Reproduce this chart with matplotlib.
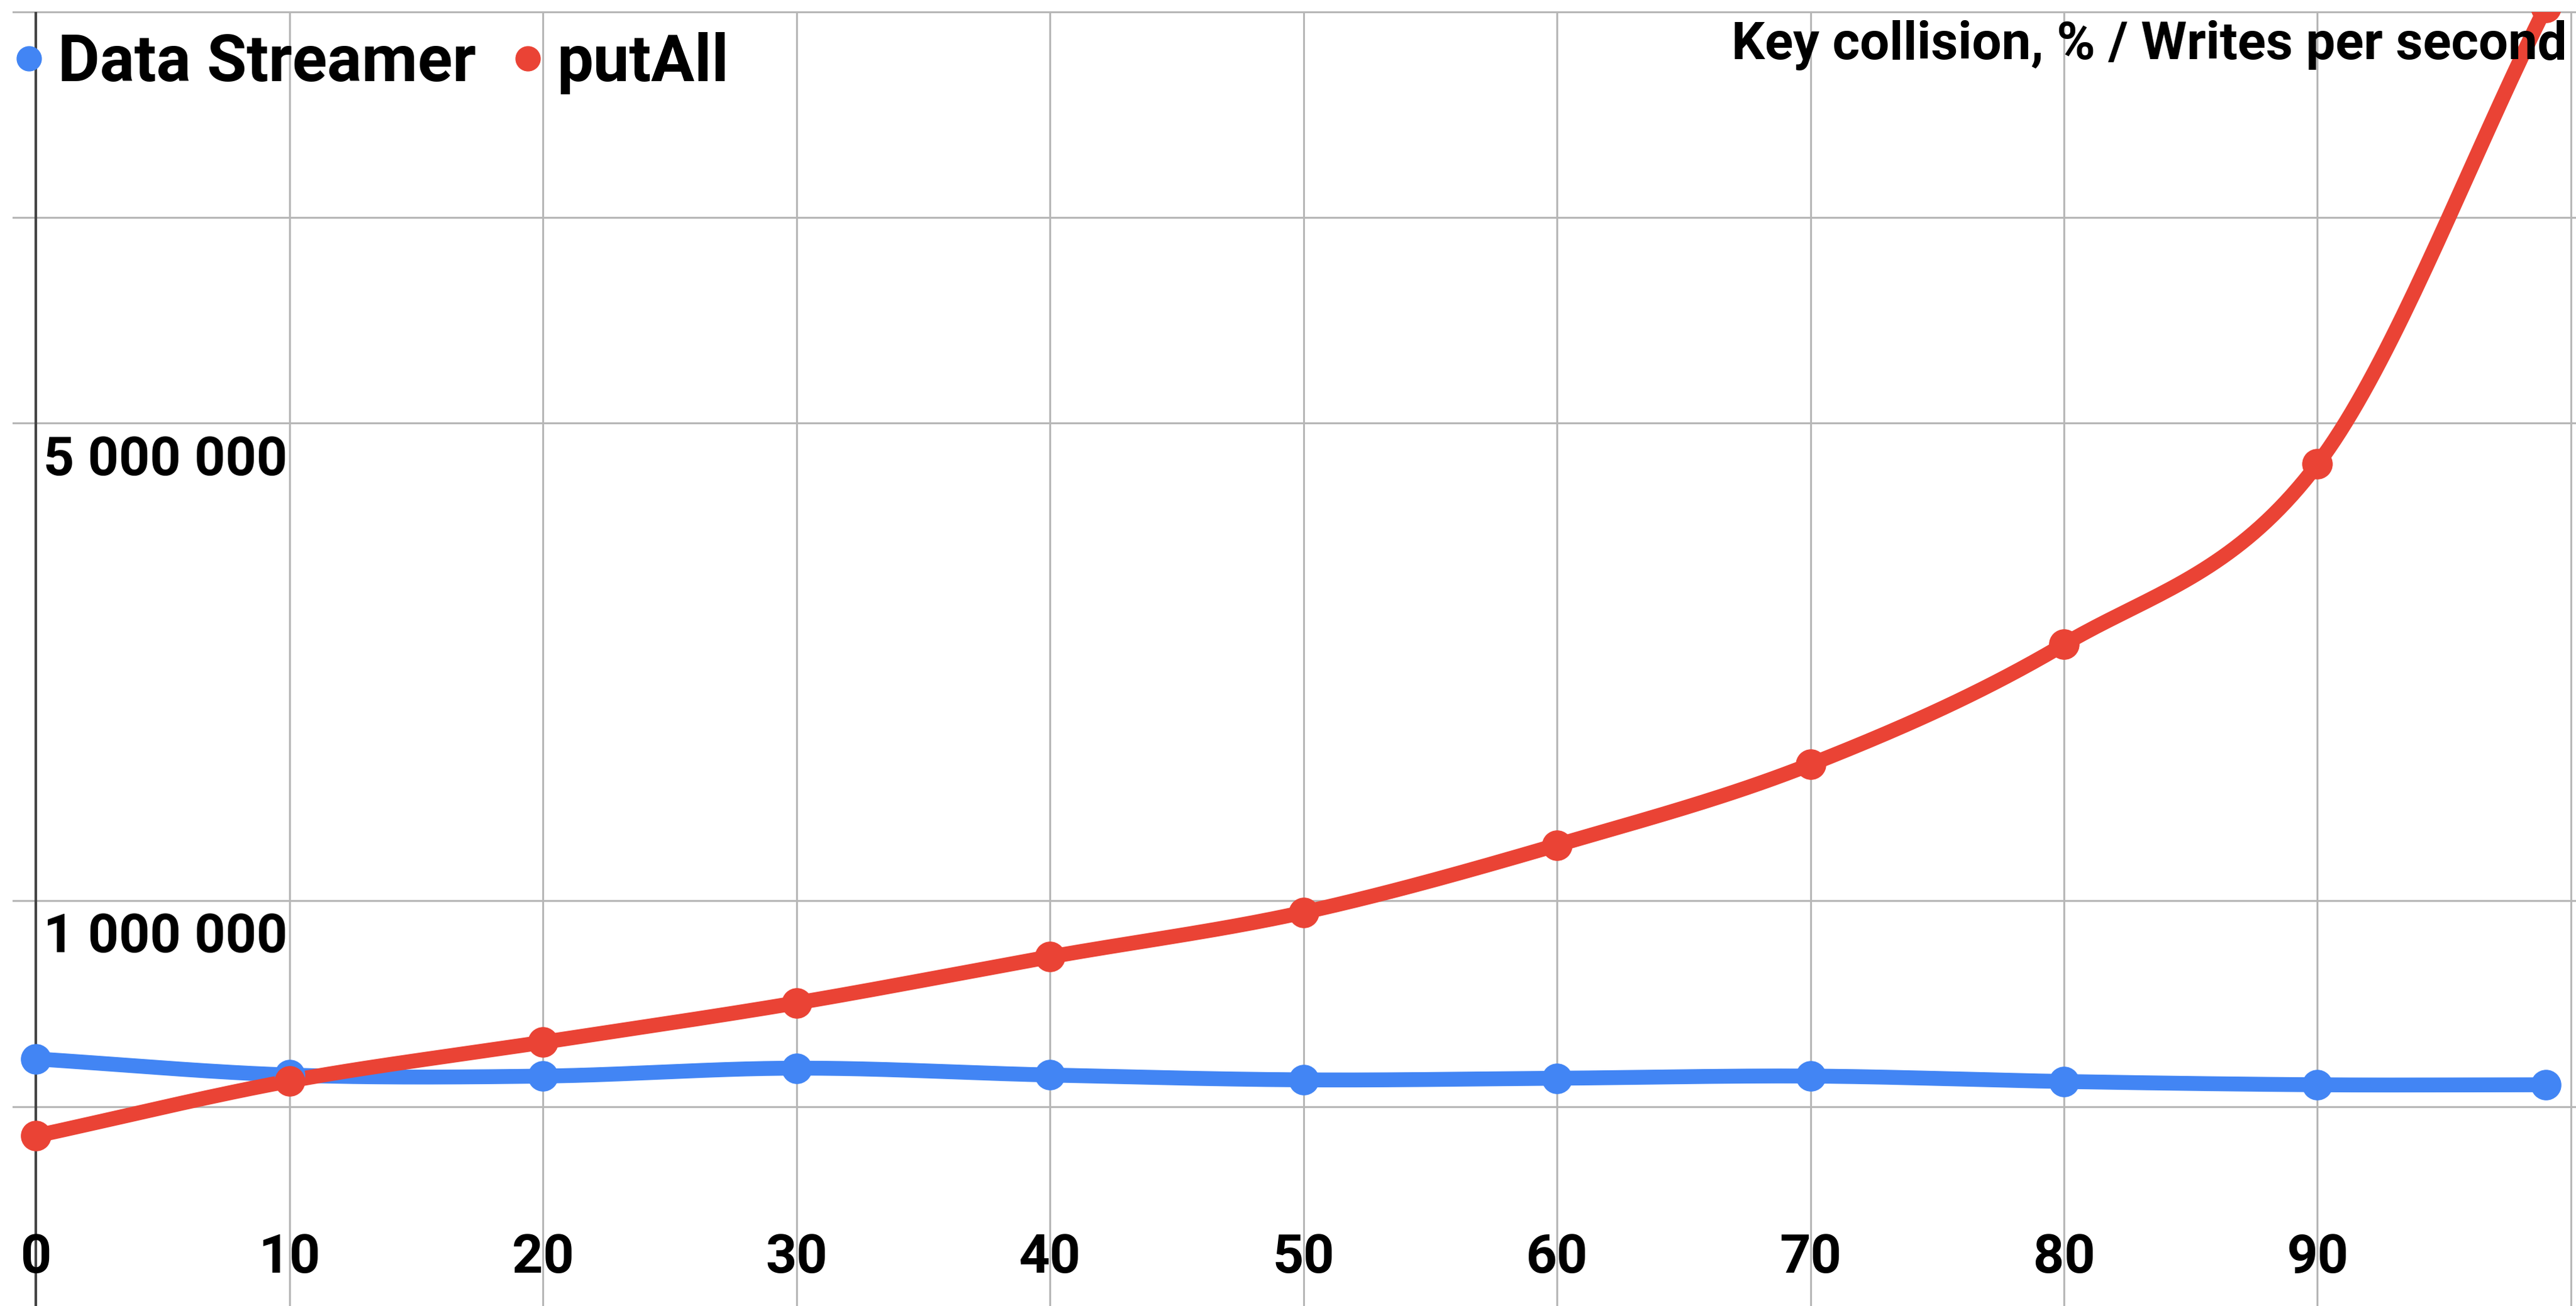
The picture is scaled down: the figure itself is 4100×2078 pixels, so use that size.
import numpy as np
import matplotlib
matplotlib.use("Agg")
import matplotlib.pyplot as plt
from matplotlib.lines import Line2D

# ---- data ----
collision_pct = [0, 10, 20, 30, 40, 50, 60, 70, 80, 90, 99]
data_streamer = [587000, 556000, 554000, 569000, 556000, 547000, 550000, 554000, 544000, 538000, 538000]
put_all = [453000, 545000, 621000, 709000, 828000, 962000, 1207000, 1584000, 2373000, 4357000, 20300000]
series_names = ["Data Streamer", "putAll"]
x_ticks = [0, 10, 20, 30, 40, 50, 60, 70, 80, 90]
y_labels = {5000000: "5 000 000", 1000000: "1 000 000"}
y_grid = [500000, 1000000, 5000000, 10000000, 20000000]
title = "Key collision, % / Writes per second"

BLUE = "#4285F4"
RED = "#EA4335"
FONT = "Roboto"


def smooth(x, y, n=40):
    """Cubic Hermite (Catmull-Rom tangents) through the points, log space for y."""
    x = np.asarray(x, float)
    ly = np.log10(np.asarray(y, float))
    m = np.zeros_like(ly)
    m[1:-1] = (ly[2:] - ly[:-2]) / (x[2:] - x[:-2])
    m[0] = (ly[1] - ly[0]) / (x[1] - x[0])
    m[-1] = (ly[-1] - ly[-2]) / (x[-1] - x[-2])
    xs, ys = [], []
    for i in range(len(x) - 1):
        h = x[i + 1] - x[i]
        t = np.linspace(0, 1, n, endpoint=False)
        h00 = 2 * t**3 - 3 * t**2 + 1
        h10 = t**3 - 2 * t**2 + t
        h01 = -2 * t**3 + 3 * t**2
        h11 = t**3 - t**2
        xs.append(x[i] + t * h)
        ys.append(h00 * ly[i] + h10 * h * m[i] + h01 * ly[i + 1] + h11 * h * m[i + 1])
    xs.append([x[-1]])
    ys.append([ly[-1]])
    return np.concatenate(xs), 10 ** np.concatenate(ys)


W, H = 4100, 2078
fig = plt.figure(figsize=(W / 100, H / 100), dpi=100)
top_px = 19
ax = fig.add_axes([0, 0, 1, 1 - top_px / H])
ax.set_yscale("log")
ax.set_xlim(-1.425, 100.2)
ax.set_ylim(10 ** 5.407, 2.0e7)
for s in ax.spines.values():
    s.set_visible(False)
ax.set_xticks([])
ax.set_yticks([])
ax.yaxis.set_minor_locator(matplotlib.ticker.NullLocator())

# grid
for g in y_grid:
    ax.plot([-0.9, 100.2], [g, g], color="#b7b7b7", lw=2.2, zorder=1, clip_on=False)
for xv in x_ticks[1:] + [100]:
    ax.axvline(xv, color="#b7b7b7", lw=2.2, zorder=1)
ax.axvline(0, color="#444444", lw=3, zorder=2)

# lines
for yv, col in [(data_streamer, BLUE), (put_all, RED)]:
    sx, sy = smooth(collision_pct, yv)
    ax.plot(sx, sy, color=col, lw=17, solid_capstyle="round", zorder=3)
    ax.plot(collision_pct, yv, "o", color=col, ms=34, zorder=4)

# y labels
for val, lab in y_labels.items():
    ax.annotate(lab, (0, val), xytext=(8, -13), textcoords="offset points",
                ha="left", va="top", fontsize=62, fontweight="bold",
                family=FONT, color="black", zorder=5)

# x labels
for xv in x_ticks:
    ax.text(xv, 0.037, str(xv), transform=ax.get_xaxis_transform(),
            ha="center", va="center", fontsize=62, fontweight="bold",
            family=FONT, color="black", zorder=5)

# title
fig.text(0.9965, 1 - 72 / H, title, ha="right", va="center",
         fontsize=60, fontweight="bold", family=FONT, color="black", zorder=6)

# legend
handles = [Line2D([], [], marker="o", ls="none", color=BLUE, ms=28),
           Line2D([], [], marker="o", ls="none", color=RED, ms=28)]
leg = fig.legend(handles, series_names, loc="center left",
                 bbox_to_anchor=(0.005, 1 - 100 / H),
                 ncol=2, frameon=False, handlelength=0.5, handletextpad=0.2,
                 columnspacing=0.55, borderaxespad=0, borderpad=0,
                 prop={"family": FONT, "weight": "bold", "size": 74})

fig.savefig("out.png", dpi=100, facecolor="white")
